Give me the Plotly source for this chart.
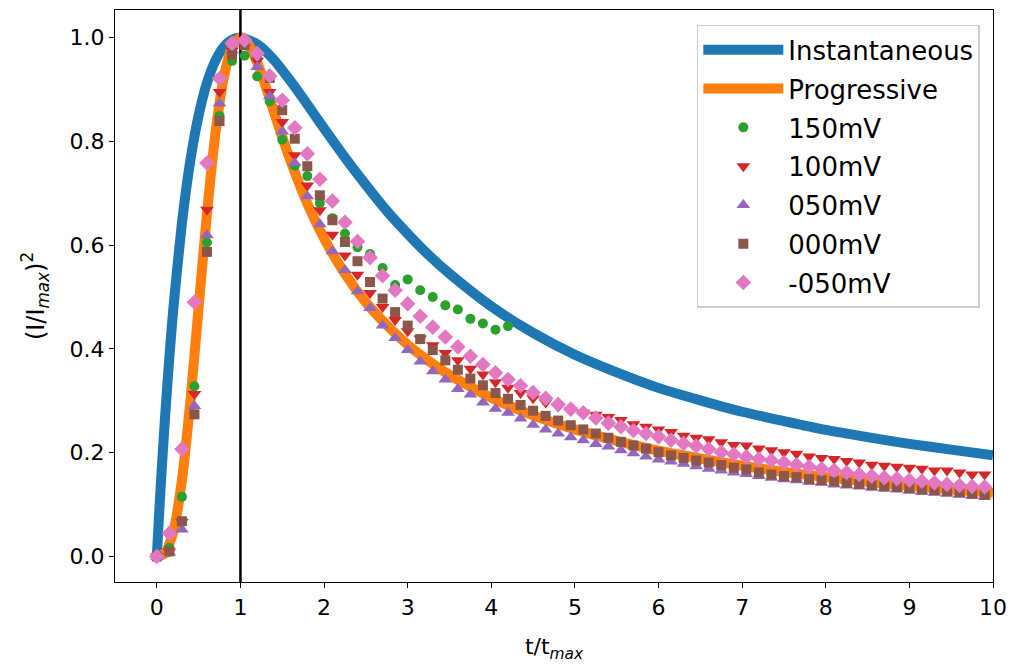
"""Normalised chronoamperometry transients vs. Scharifker-Hills nucleation models."""

import plotly.graph_objects as go

# theoretical curves
INST_T = [0, 0.02, 0.05, 0.1, 0.15, 0.2, 0.3, 0.4, 0.5, 0.6, 0.7, 0.8, 0.9, 1.0,
          1.2, 1.4, 1.6, 1.8, 2.0, 2.25, 2.5, 2.75, 3.0, 3.25, 3.5,
          4.0, 4.5, 5.0, 5.5, 6.0, 6.5, 7.0, 7.5, 8.0, 8.5, 9.0, 9.5, 10.0]
INST_Y = [0, 0.060, 0.145, 0.272, 0.384, 0.482, 0.642, 0.762, 0.850, 0.913, 0.955, 0.982, 0.996, 1.000,
          0.987, 0.957, 0.916, 0.871, 0.825, 0.769, 0.716, 0.666, 0.622, 0.581, 0.545,
          0.482, 0.431, 0.389, 0.355, 0.325, 0.301, 0.279, 0.261, 0.244, 0.230, 0.217, 0.206, 0.195]

PROG_T = [0, 0.1, 0.2, 0.3, 0.4, 0.5, 0.6, 0.7, 0.8, 0.9, 1.0, 1.1, 1.2, 1.3, 1.4, 1.5, 1.6,
          1.8, 2.0, 2.25, 2.5, 2.75, 3.0, 3.25, 3.5,
          4.0, 4.5, 5.0, 5.5, 6.0, 6.5, 7.0, 7.5, 8.0, 8.5, 9.0, 9.5, 10.0]
PROG_Y = [0, 0.007, 0.049, 0.147, 0.298, 0.480, 0.661, 0.814, 0.922, 0.982, 1.000, 0.986, 0.952, 0.907, 0.857, 0.808, 0.762,
          0.680, 0.613, 0.545, 0.490, 0.446, 0.408, 0.377, 0.350,
          0.306, 0.272, 0.245, 0.223, 0.204, 0.189, 0.175, 0.163, 0.153, 0.144, 0.136, 0.129, 0.123]

# measured transients, sampled every T_STEP in t/tmax
T_STEP = 0.15

V150 = [0.0, 0.017, 0.115, 0.328, 0.605, 0.849, 0.955, 0.965, 0.925, 0.877,
        0.803, 0.753, 0.733, 0.681, 0.652, 0.622, 0.596, 0.583, 0.556, 0.523,
        0.534, 0.513, 0.500, 0.484, 0.476, 0.458, 0.449, 0.437, 0.444]

V100 = [0.0, 0.010, 0.067, 0.313, 0.668, 0.895, 0.975, 0.992, 0.955, 0.895,
        0.837, 0.773, 0.715, 0.667, 0.620, 0.580, 0.543, 0.508, 0.481, 0.456,
        0.434, 0.420, 0.407, 0.392, 0.378, 0.362, 0.351, 0.336, 0.325, 0.315,
        0.305, 0.297, 0.289, 0.282, 0.277, 0.273, 0.269, 0.263, 0.255, 0.250,
        0.245, 0.240, 0.233, 0.229, 0.226, 0.220, 0.215, 0.214, 0.208, 0.205,
        0.201, 0.198, 0.193, 0.190, 0.188, 0.184, 0.181, 0.177, 0.175, 0.173,
        0.171, 0.169, 0.166, 0.166, 0.162, 0.158, 0.158]

V050 = [0.0, 0.008, 0.052, 0.290, 0.619, 0.873, 0.975, 0.990, 0.943, 0.887,
        0.819, 0.758, 0.694, 0.640, 0.588, 0.552, 0.511, 0.479, 0.445, 0.421,
        0.398, 0.376, 0.357, 0.341, 0.323, 0.312, 0.297, 0.285, 0.277, 0.266,
        0.254, 0.245, 0.237, 0.230, 0.224, 0.217, 0.212, 0.205, 0.199, 0.193,
        0.187, 0.183, 0.179, 0.174, 0.169, 0.166, 0.162, 0.159, 0.155, 0.152,
        0.149, 0.147, 0.144, 0.142, 0.139, 0.137, 0.135, 0.133, 0.131, 0.129,
        0.127, 0.125, 0.123, 0.121, 0.119, 0.117, 0.115]

V000 = [0.0, 0.010, 0.068, 0.274, 0.587, 0.839, 0.967, 0.985, 0.966, 0.922,
        0.860, 0.805, 0.752, 0.696, 0.648, 0.606, 0.569, 0.529, 0.497, 0.471,
        0.445, 0.419, 0.398, 0.378, 0.360, 0.343, 0.330, 0.315, 0.304, 0.292,
        0.281, 0.271, 0.262, 0.253, 0.245, 0.237, 0.229, 0.221, 0.214, 0.208,
        0.201, 0.195, 0.190, 0.185, 0.181, 0.176, 0.171, 0.168, 0.162, 0.158,
        0.155, 0.153, 0.149, 0.147, 0.145, 0.142, 0.140, 0.137, 0.135, 0.134,
        0.132, 0.129, 0.128, 0.126, 0.124, 0.121, 0.119]

VM050 = [0.0, 0.045, 0.207, 0.490, 0.758, 0.921, 0.989, 0.995, 0.969, 0.926,
         0.879, 0.826, 0.776, 0.727, 0.685, 0.644, 0.607, 0.576, 0.541, 0.513,
         0.487, 0.463, 0.442, 0.423, 0.404, 0.386, 0.370, 0.354, 0.341, 0.329,
         0.316, 0.305, 0.293, 0.284, 0.277, 0.267, 0.257, 0.250, 0.243, 0.237,
         0.231, 0.224, 0.218, 0.213, 0.207, 0.201, 0.197, 0.192, 0.188, 0.185,
         0.181, 0.177, 0.173, 0.169, 0.166, 0.162, 0.158, 0.155, 0.152, 0.150,
         0.147, 0.145, 0.142, 0.139, 0.137, 0.135, 0.134]

SERIES = [
    ("150mV", V150, "#2ca02c", "circle", 10),
    ("100mV", V100, "#d62728", "triangle-down", 12),
    ("050mV", V050, "#9467bd", "triangle-up", 12),
    ("000mV", V000, "#8c564b", "square", 10),
    ("-050mV", VM050, "#e377c2", "diamond", 12),
]

FONT = "DejaVu Sans"


def t_axis(vals):
    return [round(i * T_STEP, 2) for i in range(len(vals))]


fig = go.Figure()

fig.add_trace(go.Scatter(x=INST_T, y=INST_Y, mode="lines", name="Instantaneous",
                         line=dict(color="#1f77b4", width=10, shape="spline", smoothing=0.6),
                         legendgroup="a"))
fig.add_trace(go.Scatter(x=PROG_T, y=PROG_Y, mode="lines", name="Progressive",
                         line=dict(color="#ff7f0e", width=10, shape="spline", smoothing=0.6),
                         legendgroup="b"))
# t = tmax marker line
fig.add_trace(go.Scatter(x=[1, 1], y=[-0.2, 1.2], mode="lines", showlegend=False,
                         line=dict(color="black", width=2.5), hoverinfo="skip"))

for i, (name, vals, color, symbol, size) in enumerate(SERIES):
    fig.add_trace(go.Scatter(x=t_axis(vals), y=vals, mode="markers", name=name,
                             marker=dict(color=color, symbol=symbol, size=size, line=dict(width=0)),
                             legendgroup="s%d" % i))

axis_common = dict(showline=True, linecolor="black", linewidth=1.3, mirror=True,
                   ticks="outside", ticklen=5, tickwidth=1.3, tickcolor="black",
                   showgrid=False, zeroline=False,
                   tickfont=dict(family=FONT, size=22, color="black"))

fig.update_xaxes(range=[-0.5, 10], dtick=1, tick0=0,
                 title=dict(text="t/t<sub><i>max</i></sub>", font=dict(family=FONT, size=22, color="black"),
                            standoff=20),
                 **axis_common)
fig.update_yaxes(range=[-0.049, 1.053], dtick=0.2, tick0=0, tickformat=".1f",
                 title=dict(text="(I/I<sub><i>max</i></sub>)<sup>2</sup>",
                            font=dict(family=FONT, size=24, color="black"), standoff=18),
                 **axis_common)

# the page adds an 8px body margin, so the figure is 8px smaller each way
fig.update_layout(
    width=1010, height=659,
    margin=dict(l=107, r=25, t=2, b=85),
    paper_bgcolor="white", plot_bgcolor="white",
    font=dict(family=FONT, color="black"),
    legend=dict(x=0.985, y=0.974, xanchor="right", yanchor="top",
                bgcolor="rgba(255,255,255,0.85)", bordercolor="#cccccc", borderwidth=1.5,
                font=dict(family=FONT, size=26, color="black"),
                tracegroupgap=2, itemwidth=80),
)

fig.write_html("out.html")
